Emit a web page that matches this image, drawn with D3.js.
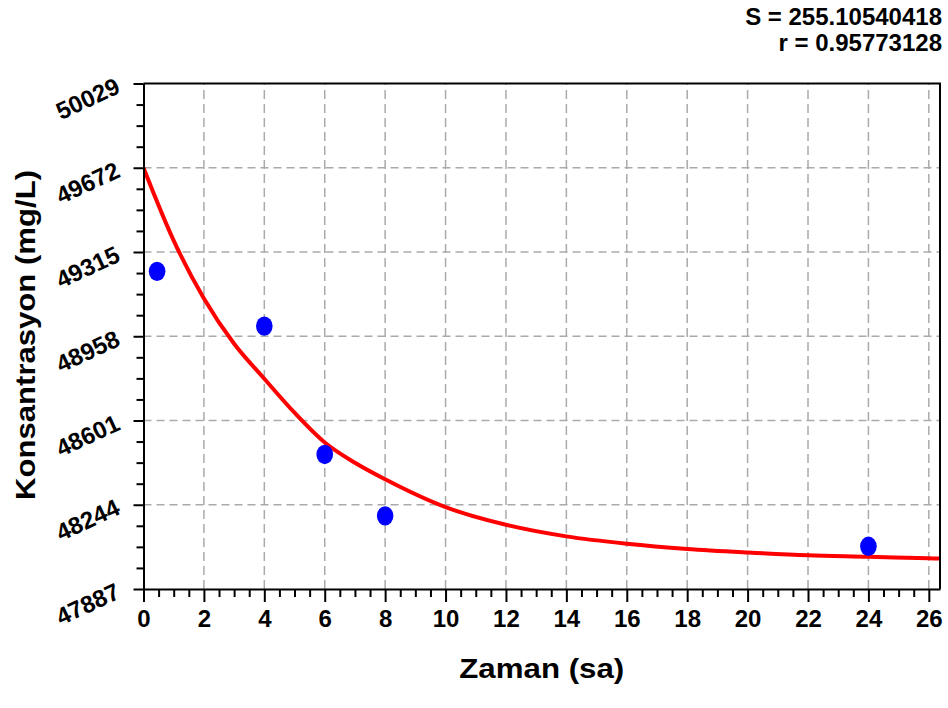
<!DOCTYPE html>
<html>
<head>
<meta charset="utf-8">
<script src="https://cdn.jsdelivr.net/npm/d3@7"></script>
<style>
  html, body { margin: 0; padding: 0; background: #ffffff; }
  svg { display: block; }
  text { font-family: "Liberation Sans", Arial, sans-serif; font-weight: bold; fill: #000; }
</style>
</head>
<body>
<svg id="chart" width="948" height="708"></svg>
<script>
// Measured concentrations (time in hours, concentration in mg/L)
const sampleTimes = [0.45, 4, 6, 8, 24];
const sampleConc  = [49233, 49001, 48457, 48197, 48068];

// Fitted decay curve, read at regular times
const fitTimes = [0, 1, 2, 3, 4, 5, 6, 7, 8, 10, 12, 14, 16, 18, 20, 22, 24, 26, 26.37];
const fitConc  = [49672, 49363, 49118, 48926, 48778, 48634, 48508, 48422, 48352,
                  48234, 48159, 48110, 48079, 48057, 48042, 48030, 48024, 48017, 48016];

// Axis ticks
const yTicks = [47887, 48244, 48601, 48958, 49315, 49672, 50029];
const xTicks = [0, 2, 4, 6, 8, 10, 12, 14, 16, 18, 20, 22, 24, 26];

// Fit statistics
const statLines = ["S = 255.10540418", "r = 0.95773128"];

const svg = d3.select("#chart");
const plotL = 143.5, plotR = 940, plotT = 83.5, plotB = 589;

const x = d3.scaleLinear().domain([0, 26.37]).range([plotL, plotR]);
const y = d3.scaleLinear().domain([47887, 50029]).range([plotB, plotT]);

// minor tick positions
const xMinor = d3.range(0, 26.01, 0.5).filter(v => Math.abs(v / 2 - Math.round(v / 2)) > 1e-6);
const yStep = 357 / 4;
const yMinor = d3.range(0, 24).map(i => 47887 + i * yStep).filter((v, i) => i % 4 !== 0);

// grid
const grid = svg.append("g").attr("stroke", "#aaaaaa").attr("stroke-width", 1.5);
grid.selectAll("line.vx").data(xTicks.filter(t => t > 0)).enter().append("line")
  .attr("x1", d => x(d)).attr("x2", d => x(d))
  .attr("y1", plotB).attr("y2", plotT)
  .attr("stroke-dasharray", "9,5");
grid.selectAll("line.hy").data(yTicks.slice(1, -1)).enter().append("line")
  .attr("x1", plotL).attr("x2", plotR)
  .attr("y1", d => y(d)).attr("y2", d => y(d))
  .attr("stroke-dasharray", "8,5");

// clip for the plot area
svg.append("clipPath").attr("id", "plotClip").append("rect")
  .attr("x", plotL).attr("y", plotT).attr("width", plotR - plotL).attr("height", plotB - plotT);

// fitted curve
const fitData = fitTimes.map((t, i) => [t, fitConc[i]]);
svg.append("path")
  .datum(fitData)
  .attr("clip-path", "url(#plotClip)")
  .attr("fill", "none")
  .attr("stroke", "#ff0000")
  .attr("stroke-width", 4)
  .attr("stroke-linejoin", "round")
  .attr("d", d3.line().x(d => x(d[0])).y(d => y(d[1])).curve(d3.curveMonotoneX));

// measured points
svg.selectAll("ellipse.pt").data(sampleTimes.map((t, i) => [t, sampleConc[i]])).enter()
  .append("ellipse")
  .attr("cx", d => x(d[0])).attr("cy", d => y(d[1]))
  .attr("rx", 8.3).attr("ry", 9.7)
  .attr("fill", "#0000ff");

// frame (top and right)
svg.append("path")
  .attr("d", `M${plotL},${plotT}H${plotR}V${plotB}`)
  .attr("fill", "none").attr("stroke", "#000").attr("stroke-width", 2);

// x axis
const xAxis = d3.axisBottom(x).tickValues(xTicks).tickSize(13).tickSizeOuter(0).tickFormat(d3.format("d"));
const gx = svg.append("g").attr("transform", `translate(0,${plotB})`).call(xAxis);
gx.select(".domain").attr("stroke", "#000").attr("stroke-width", 2);
gx.selectAll(".tick line").attr("stroke", "#000").attr("stroke-width", 2);
gx.selectAll(".tick text").attr("font-size", 24).attr("y", 0).attr("dy", 0)
  .attr("transform", "translate(0,38)")
  .style("font-family", "'Liberation Sans', Arial, sans-serif").style("font-weight", "bold").attr("fill", "#000");
const gxMinor = svg.append("g").attr("transform", `translate(0,${plotB})`)
  .call(d3.axisBottom(x).tickValues(xMinor).tickSize(8).tickFormat(""));
gxMinor.select(".domain").remove();
gxMinor.selectAll(".tick line").attr("stroke", "#000").attr("stroke-width", 2);

// y axis
const yAxis = d3.axisLeft(y).tickValues(yTicks).tickSize(10).tickSizeOuter(0).tickFormat(d3.format("d"));
const gy = svg.append("g").attr("transform", `translate(${plotL},0)`).call(yAxis);
gy.select(".domain").attr("stroke", "#000").attr("stroke-width", 2);
gy.selectAll(".tick line").attr("stroke", "#000").attr("stroke-width", 2);
gy.selectAll(".tick text")
  .attr("font-size", 24).attr("x", 0).attr("dy", 0)
  .attr("text-anchor", "end")
  .attr("transform", "translate(-22,8) rotate(-25)")
  .style("font-family", "'Liberation Sans', Arial, sans-serif").style("font-weight", "bold").attr("fill", "#000");
const gyMinor = svg.append("g").attr("transform", `translate(${plotL},0)`)
  .call(d3.axisLeft(y).tickValues(yMinor).tickSize(7).tickFormat(""));
gyMinor.select(".domain").remove();
gyMinor.selectAll(".tick line").attr("stroke", "#000").attr("stroke-width", 2);

// axis titles
svg.append("text")
  .attr("x", (plotL + plotR) / 2).attr("y", 678)
  .attr("text-anchor", "middle").attr("font-size", 28)
  .attr("textLength", 165).attr("lengthAdjust", "spacingAndGlyphs")
  .text("Zaman (sa)");

svg.append("text")
  .attr("transform", "translate(35,335) rotate(-90)")
  .attr("text-anchor", "middle").attr("font-size", 27)
  .attr("textLength", 330).attr("lengthAdjust", "spacingAndGlyphs")
  .text("Konsantrasyon (mg/L)");

// fit statistics
svg.selectAll("text.stat").data(statLines).enter().append("text")
  .attr("class", "stat")
  .attr("x", 942).attr("y", (d, i) => 25 + i * 26)
  .attr("text-anchor", "end").attr("font-size", 24)
  .text(d => d);
</script>
</body>
</html>
